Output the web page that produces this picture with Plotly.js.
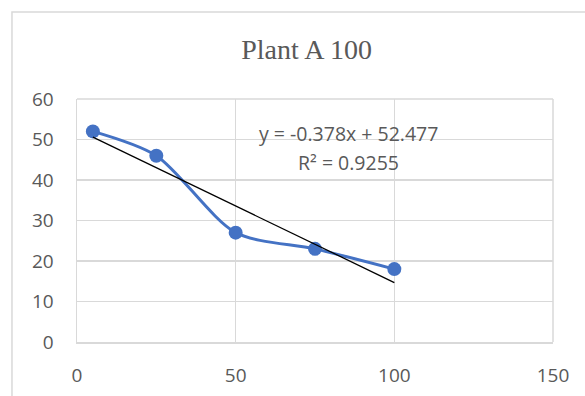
<!DOCTYPE html>
<html>
<head>
<meta charset="utf-8">
<script src="https://cdn.plot.ly/plotly-3.0.1.min.js"></script>
<style>html,body{margin:0;padding:0;background:#fff;}#chart{width:585px;height:396px;}</style>
</head>
<body>
<div id="chart"></div>
<script>
const xValues = [5, 25, 50, 75, 100];
const yValues = [52, 46, 27, 23, 18];
const chartTitle = "Plant A 100";
const xTicks = [0, 50, 100, 150];
const yTicks = [0, 10, 20, 30, 40, 50, 60];

// least-squares linear trendline computed from the data
const n = xValues.length;
const mx = xValues.reduce((a, b) => a + b, 0) / n;
const my = yValues.reduce((a, b) => a + b, 0) / n;
let sxy = 0, sxx = 0, syy = 0;
for (let i = 0; i < n; i++) {
  sxy += (xValues[i] - mx) * (yValues[i] - my);
  sxx += (xValues[i] - mx) ** 2;
  syy += (yValues[i] - my) ** 2;
}
const slope = sxy / sxx;
const intercept = my - slope * mx;
const r2 = (sxy * sxy) / (sxx * syy);
const xMin = Math.min(...xValues), xMax = Math.max(...xValues);
const trendX = [xMin, xMax];
const trendY = trendX.map(x => slope * x + intercept);
const eqText = "y = " + slope.toFixed(3) + "x + " + intercept.toFixed(3);
const r2Text = "R² = " + r2.toFixed(4);

const tickFont = {family: "Open Sans, sans-serif", size: 19, color: "#595959"};
const annFont = {family: "Open Sans, sans-serif", size: 19.5, color: "#595959"};

const data = [
  {
    x: xValues, y: yValues, type: "scatter", mode: "lines+markers",
    line: {shape: "spline", smoothing: 0.8, color: "#4472C4", width: 3},
    marker: {color: "#4472C4", size: 14},
    hoverinfo: "none"
  },
  {
    x: trendX, y: trendY, type: "scatter", mode: "lines",
    line: {color: "#000000", width: 1.3},
    hoverinfo: "none"
  }
];

const layout = {
  width: 585, height: 396,
  margin: {l: 77, r: 32, t: 99, b: 54},
  paper_bgcolor: "#ffffff", plot_bgcolor: "#ffffff",
  showlegend: false,
  title: {text: chartTitle, font: {family: "Liberation Serif, serif", size: 28, color: "#595959"},
          x: 0.524, xanchor: "center", y: 0.876, yanchor: "middle"},
  xaxis: {
    range: [0, 150], tickvals: xTicks, ticktext: xTicks.map(String),
    showgrid: true, gridcolor: "#d9d9d9", gridwidth: 1.5,
    zeroline: false, showline: true, linecolor: "#d9d9d9", linewidth: 1.5,
    ticks: "outside", ticklen: 16, tickcolor: "rgba(0,0,0,0)",
    tickfont: tickFont, fixedrange: true
  },
  yaxis: {
    range: [0, 60], tickvals: yTicks, ticktext: yTicks.map(String),
    showgrid: true, gridcolor: "#d9d9d9", gridwidth: 1.5,
    zeroline: false, showline: true, linecolor: "#d9d9d9", linewidth: 1.5,
    ticks: "outside", ticklen: 18, tickcolor: "rgba(0,0,0,0)",
    tickfont: tickFont, fixedrange: true
  },
  shapes: [
    {type: "rect", xref: "paper", yref: "paper", x0: -0.1366, x1: 1.3, y0: -0.4, y1: 1.358,
     line: {color: "#d9d9d9", width: 1.5}, fillcolor: "rgba(0,0,0,0)", layer: "below"},
    {type: "line", xref: "paper", yref: "paper", x0: 1, x1: 1, y0: 0, y1: 1,
     line: {color: "#d9d9d9", width: 1.5}, layer: "below"},
    {type: "line", xref: "paper", yref: "paper", x0: 0, x1: 1, y0: 1, y1: 1,
     line: {color: "#d9d9d9", width: 1.5}, layer: "below"}
  ],
  annotations: [
    {x: 85.7, y: 51.6, xref: "x", yref: "y", text: eqText, showarrow: false,
     font: annFont, xanchor: "center", yanchor: "middle"},
    {x: 85.7, y: 44.2, xref: "x", yref: "y", text: r2Text, showarrow: false,
     font: annFont, xanchor: "center", yanchor: "middle"}
  ]
};

Plotly.newPlot("chart", data, layout, {staticPlot: true, displayModeBar: false});
</script>
</body>
</html>
